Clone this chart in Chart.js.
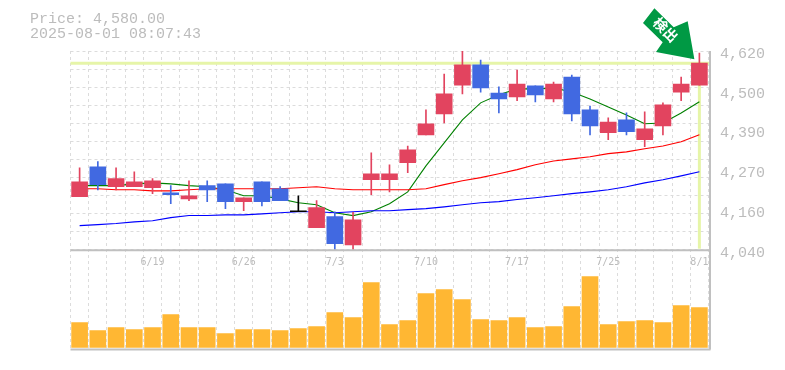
<!DOCTYPE html>
<html><head><meta charset="utf-8">
<style>html,body{margin:0;padding:0;background:#fff}canvas{display:block}</style>
<script src="https://cdn.jsdelivr.net/npm/chart.js@4/dist/chart.umd.js"></script>
</head><body><canvas id="c" width="785" height="370"></canvas>
<script>
const categories=['6/13','6/16','6/17','6/18','6/19','6/20','6/23','6/24','6/25','6/26','6/27','6/30','7/1','7/2','7/3','7/4','7/7','7/8','7/9','7/10','7/11','7/14','7/15','7/16','7/17','7/18','7/22','7/23','7/24','7/25','7/28','7/29','7/30','7/31','8/1'];
const xTickLabels=['6/19','6/26','7/3','7/10','7/17','7/25','8/1'];
const yTickLabels=['4,040','4,160','4,270','4,390','4,500','4,620'];
const opens =[4196,4282,4225,4225,4222,4207,4190,4228,4233,4182,4239,4219,4153,4107,4139,4058,4245,4245,4294,4374,4434,4517,4575,4494,4483,4515,4477,4540,4446,4380,4417,4360,4400,4497,4517];
const closes=[4239,4231,4248,4239,4242,4202,4199,4216,4182,4193,4182,4185,4153,4165,4061,4130,4262,4262,4331,4406,4492,4575,4509,4477,4520,4489,4520,4434,4400,4411,4383,4391,4460,4520,4580];
const highs =[4279,4297,4279,4268,4248,4228,4242,4242,4233,4193,4239,4225,4199,4185,4153,4151,4322,4288,4342,4446,4549,4615,4589,4512,4560,4515,4526,4546,4457,4423,4437,4440,4466,4540,4609];
const lows  =[4196,4216,4216,4225,4205,4176,4185,4182,4162,4156,4170,4185,4153,4107,4044,4044,4202,4210,4265,4374,4408,4492,4497,4437,4472,4469,4469,4414,4374,4360,4374,4340,4374,4472,4517];
const maShort=[4228,4228,4228,4233,4236,4233,4228,4225,4216,4199,4199,4190,4179,4173,4150,4142,4153,4176,4210,4285,4351,4417,4466,4489,4506,4506,4509,4497,4477,4454,4431,4406,4408,4437,4469];
const maMid  =[4219,4219,4216,4216,4213,4213,4216,4219,4219,4219,4219,4219,4222,4225,4219,4216,4216,4216,4216,4219,4231,4242,4251,4262,4274,4288,4299,4305,4311,4320,4325,4334,4342,4354,4374];
const maLong =[4113,4116,4119,4124,4127,4136,4142,4142,4144,4144,4147,4150,4153,4153,4150,4153,4156,4156,4159,4162,4167,4173,4179,4182,4188,4193,4199,4205,4210,4216,4225,4236,4245,4256,4268];
const volumes=[25,17,20,18,20,33,20,20,14,18,18,17,19,21,35,30,65,23,27,54,58,48,28,27,30,20,21,41,71,23,26,27,25,42,40];
const priceNow=4580;
const titleLines=['Price: 4,580.00','2025-08-01 08:07:43'];
const badgeText='検出';

const UP='#e2445f',DOWN='#4169e1',FLAT='#000000',GRID='#dcdcdc',FRAME='#c0c0c0',TEXT='#bcbcbc',HILITE='#e6f5a8';
const mono='"Liberation Mono", monospace';
const candleColors=opens.map((o,i)=>closes[i]>o?UP:closes[i]<o?DOWN:FLAT);

const overlay={
  id:'overlay',
  beforeDatasetsDraw(chart){
    const {ctx,chartArea:a,scales:{x,y}}=chart;
    const py=y.getPixelForValue(priceNow), px=x.getPixelForValue(categories.length-1);
    ctx.save();
    ctx.strokeStyle=HILITE;ctx.lineWidth=3;
    ctx.beginPath();ctx.moveTo(a.left,py);ctx.lineTo(a.right+1.5,py);ctx.stroke();
    ctx.beginPath();ctx.moveTo(px,py);ctx.lineTo(px,y.bottom-1);ctx.stroke();
    ctx.restore();
  },
  afterDraw(chart){
    const {ctx,chartArea:a,scales:{x,y}}=chart;
    ctx.save();
    ctx.strokeStyle=FRAME;ctx.lineWidth=2;
    ctx.beginPath();
    ctx.moveTo(a.left,y.bottom+.5);ctx.lineTo(a.right+2,y.bottom+.5);
    ctx.moveTo(a.left,a.bottom);ctx.lineTo(a.right+2,a.bottom);
    ctx.moveTo(a.right+1.5,a.top);ctx.lineTo(a.right+1.5,a.bottom);
    ctx.stroke();
    ctx.fillStyle=TEXT;ctx.font='15px '+mono;ctx.textBaseline='alphabetic';ctx.textAlign='left';
    titleLines.forEach((t,i)=>ctx.fillText(t,30,23+15*i));
    const tx=x.getPixelForValue(categories.length-1)-5, ty=y.getPixelForValue(priceNow)-4;
    const shape=[[0,0],[-38.4,-7.3],[-31.7,-17],[-51.4,-36.3],[-40,-51],[-20.7,-32],[-6.7,-38]];
    ctx.fillStyle='#009944';ctx.beginPath();
    shape.forEach(([dx,dy],i)=>i?ctx.lineTo(tx+dx,ty+dy):ctx.moveTo(tx+dx,ty+dy));
    ctx.closePath();ctx.fill();
    ctx.translate(tx-28.7,ty-29.5);ctx.rotate(Math.PI/4);
    ctx.fillStyle='#fff';ctx.font='bold 14px "Noto Sans CJK JP"';ctx.textAlign='center';ctx.textBaseline='middle';
    ctx.fillText(badgeText,0,0);
    ctx.restore();
  }
};

const line=(data,color)=>({type:'line',data,yAxisID:'y',borderColor:color,borderWidth:1.1,pointRadius:0,tension:0,order:3,clip:false});
new Chart(document.getElementById('c'),{
  data:{labels:categories,datasets:[
    line(maLong,'#0000ff'),line(maMid,'#ff0000'),line(maShort,'#008000'),
    {type:'bar',data:lows.map((l,i)=>[l,highs[i]]),yAxisID:'y',backgroundColor:candleColors,barThickness:1,grouped:false,order:2},
    {type:'bar',data:opens.map((o,i)=>[o,closes[i]]),yAxisID:'y',backgroundColor:candleColors,barThickness:16,grouped:false,minBarLength:1,order:1},
    {type:'bar',data:volumes,yAxisID:'v',backgroundColor:'#ffb733',barThickness:16,grouped:false,order:1}
  ]},
  options:{
    responsive:false,animation:false,events:[],
    layout:{padding:{left:70.5,top:51,right:0,bottom:0}},
    plugins:{legend:{display:false},title:{display:false},tooltip:{enabled:false}},
    scales:{
      x:{type:'category',offset:true,
        grid:{color:GRID,lineWidth:1,drawTicks:false,offset:true},border:{display:false,dash:[3,3]},
        afterFit(s){s.height=20;s.paddingLeft=0;s.paddingRight=0;},
        ticks:{autoSkip:false,mirror:true,maxRotation:0,minRotation:0,padding:81,color:TEXT,font:{family:'"DejaVu Sans Mono", monospace',size:10},
          callback(v,i){const l=categories[i];return xTickLabels.includes(l)?l:'';}}},
      y:{type:'linear',position:'right',stack:'panes',stackWeight:199,min:4044,max:4615,
        afterBuildTicks(s){
          const r=s.max-s.min,list=[];
          for(let i=0;i<=11;i++)list.push({value:s.min+r*i/11,grid:true,txt:i===0?yTickLabels[0]:i===11?yTickLabels[5]:''});
          for(let j=1;j<=4;j++)list.push({value:s.min+r*j/5,grid:false,txt:yTickLabels[j]});
          s.ticks=list.sort((a,b)=>a.value-b.value);
        },
        afterFit(s){s.width=76.5;},
        grid:{drawTicks:false,lineWidth:1,color:c=>c.tick&&c.tick.grid?GRID:'rgba(0,0,0,0)'},
        border:{display:false,dash:[3,3]},
        ticks:{autoSkip:false,padding:11.5,labelOffset:3,color:TEXT,font:{family:mono,size:15},
          callback(v,i,t){return t[i].txt;}}},
      v:{type:'linear',position:'right',stack:'panes',stackWeight:100,min:-2,max:98,
        afterFit(s){s.width=76.5;},
        grid:{display:false},border:{display:false},ticks:{display:false}}
    }
  },
  plugins:[overlay]
});
</script></body></html>
